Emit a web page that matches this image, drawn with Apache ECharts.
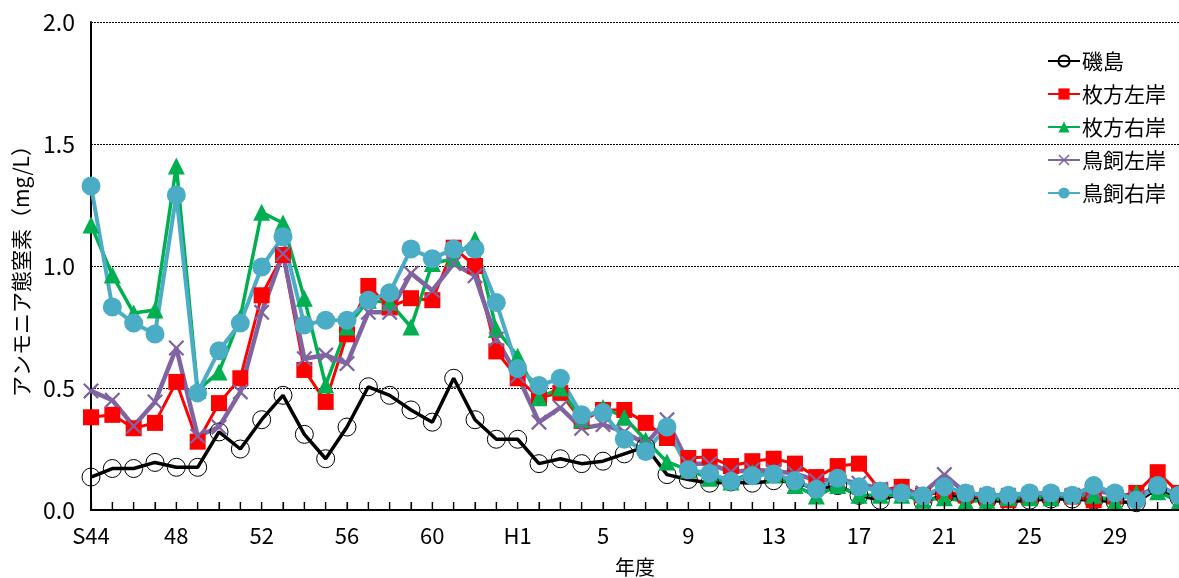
<!DOCTYPE html>
<html>
<head>
<meta charset="utf-8">
<script src="https://cdn.jsdelivr.net/npm/echarts@6/dist/echarts.min.js"></script>
<style>
html,body{margin:0;padding:0;background:#fff;}
#chart{width:1179px;height:578px;}
</style>
</head>
<body>
<div id="chart"></div>
<script>
// Fiscal years S44 (1969) .. R2 (2020)
const categories = [
  "S44","S45","S46","S47","S48","S49","S50","S51","S52","S53","S54","S55","S56","S57","S58","S59","S60","S61","S62","S63",
  "H1","H2","H3","H4","H5","H6","H7","H8","H9","H10","H11","H12","H13","H14","H15","H16","H17","H18","H19","H20",
  "H21","H22","H23","H24","H25","H26","H27","H28","H29","H30","R1","R2"
];
const tickLabels = ["S44","48","52","56","60","H1","5","9","13","17","21","25","29"];
const yTicks = [0, 0.5, 1.0, 1.5, 2.0];

const isojima = [0.135,0.17,0.17,0.195,0.175,0.175,0.32,0.25,0.37,0.47,0.31,0.21,0.34,0.505,0.47,0.41,0.36,0.54,0.37,0.29,
  0.29,0.19,0.21,0.19,0.20,0.23,0.26,0.145,0.125,0.11,0.115,0.11,0.12,0.115,0.085,0.10,0.06,0.04,0.07,0.035,
  0.06,0.055,0.04,0.035,0.04,0.045,0.045,0.04,0.035,0.03,0.09,0.05];
const hirakataL = [0.38,0.39,0.335,0.357,0.525,0.28,0.438,0.54,0.88,1.045,0.574,0.443,0.72,0.918,0.83,0.868,0.86,1.075,1.0,0.65,
  0.54,0.46,0.48,0.365,0.41,0.41,0.357,0.295,0.213,0.218,0.18,0.20,0.21,0.19,0.135,0.18,0.19,0.08,0.095,0.06,
  0.075,0.06,0.05,0.04,0.055,0.055,0.055,0.04,0.055,0.07,0.155,0.07];
const hirakataR = [1.168,0.963,0.807,0.82,1.41,0.49,0.566,0.79,1.22,1.176,0.868,0.512,0.75,0.86,0.85,0.75,1.01,1.03,1.11,0.74,
  0.63,0.46,0.50,0.37,0.42,0.38,0.287,0.197,0.164,0.13,0.115,0.155,0.143,0.10,0.057,0.10,0.06,0.06,0.06,0.04,
  0.05,0.035,0.04,0.05,0.05,0.05,0.06,0.06,0.035,0.07,0.075,0.035];
const torikaiL = [0.488,0.45,0.344,0.443,0.664,0.303,0.34,0.484,0.81,1.05,0.62,0.635,0.60,0.81,0.81,0.97,0.90,1.01,0.96,0.70,
  0.55,0.36,0.42,0.335,0.35,0.32,0.27,0.37,0.19,0.19,0.155,0.165,0.16,0.15,0.12,0.125,0.11,0.085,0.075,0.07,
  0.145,0.07,0.06,0.06,0.065,0.065,0.06,0.08,0.065,0.05,0.10,0.06];
const torikaiR = [1.328,0.832,0.766,0.721,1.291,0.48,0.653,0.766,0.996,1.12,0.758,0.778,0.778,0.86,0.89,1.07,1.03,1.07,1.07,0.85,
  0.58,0.51,0.54,0.39,0.40,0.29,0.24,0.34,0.165,0.15,0.118,0.14,0.148,0.12,0.085,0.13,0.095,0.078,0.07,0.058,
  0.095,0.07,0.06,0.06,0.07,0.07,0.06,0.10,0.07,0.04,0.10,0.06];

const FONT = '"Noto Sans CJK JP", "Noto Sans", sans-serif';
const X_SYMBOL = 'path://M0,1L1,0L10,9L9,10Z M9,0L10,1L1,10L0,9Z';

const chart = echarts.init(document.getElementById('chart'), null, {renderer:'canvas'});
chart.setOption({
  animation: false,
  backgroundColor: '#ffffff',
  grid: {left: 91, right: 0, top: 22, bottom: 68, containLabel: false, outerBoundsMode: 'none'},
  legend: {
    left: 1042, top: 45, orient: 'vertical',
    itemWidth: 32, itemHeight: 14, itemGap: 11,
    textStyle: {fontFamily: FONT, fontSize: 21, color: '#000', lineHeight: 22, padding:[0,0,0,-3]},
    data: ['磯島','枚方左岸','枚方右岸','鳥飼左岸','鳥飼右岸']
  },
  xAxis: {
    type: 'category',
    data: categories,
    boundaryGap: false,
    name: '年度',
    nameLocation: 'middle',
    nameGap: 47,
    nameTextStyle: {fontFamily: FONT, fontSize: 20, color: '#000'},
    axisLine: {onZero: false, lineStyle: {color: '#000', width: 2}},
    axisTick: {show: true, inside: true, length: 8, interval: 0, lineStyle: {color: '#000', width: 1.2}},
    axisLabel: {
      interval: 3, margin: 15, fontFamily: FONT, fontSize: 22, color: '#000',
      formatter: function (v, i) { return tickLabels[i / 4] !== undefined ? tickLabels[i / 4] : ''; }
    },
    splitLine: {show: false},
    z: 5
  },
  yAxis: {
    type: 'value',
    min: yTicks[0], max: yTicks[yTicks.length - 1], interval: 0.5,
    name: 'アンモニア態窒素（mg/L）',
    nameLocation: 'middle',
    nameGap: 59,
    nameRotate: 90,
    nameTextStyle: {fontFamily: FONT, fontSize: 21, color: '#000'},
    axisLine: {show: true, lineStyle: {color: '#000', width: 2}},
    axisTick: {show: false},
    axisLabel: {margin: 16, fontFamily: FONT, fontSize: 23, color: '#000',
      formatter: function (v) { return v.toFixed(1); }},
    splitLine: {show: true, lineStyle: {color: '#000', width: 1, type: [2, 1]}}
  },
  series: [
    {
      // inside tick marks on the year axis, one per category at the axis baseline
      name: 'ticks', type: 'scatter', silent: true, z: 1,
      data: categories.map(function (c) { return [c, yTicks[0]]; }),
      symbol: 'rect', symbolSize: [1.3, 8], symbolOffset: [0, -4],
      itemStyle: {color: '#000'}, clip: false
    },
    {
      name: '磯島', type: 'line', data: isojima, showAllSymbol: true,
      symbol: 'circle', symbolSize: 18,
      itemStyle: {color: 'rgba(255,255,255,0)', borderColor: '#000', borderWidth: 1},
      lineStyle: {color: '#000', width: 3.5}
    },
    {
      name: '枚方左岸', type: 'line', data: hirakataL, showAllSymbol: true,
      symbol: 'rect', symbolSize: 16,
      itemStyle: {color: '#FF0000'},
      lineStyle: {color: '#FF0000', width: 3}
    },
    {
      name: '枚方右岸', type: 'line', data: hirakataR, showAllSymbol: true,
      symbol: 'triangle', symbolSize: 17,
      itemStyle: {color: '#00B050'},
      lineStyle: {color: '#00B050', width: 3.5}
    },
    {
      name: '鳥飼左岸', type: 'line', data: torikaiL, showAllSymbol: true,
      symbol: X_SYMBOL, symbolSize: 16,
      itemStyle: {color: '#8064A2'},
      lineStyle: {color: '#8064A2', width: 4.5}
    },
    {
      name: '鳥飼右岸', type: 'line', data: torikaiR, showAllSymbol: true,
      symbol: 'circle', symbolSize: 19,
      itemStyle: {color: '#4BACC6'},
      lineStyle: {color: '#4BACC6', width: 4}
    }
  ]
});
</script>
</body>
</html>
